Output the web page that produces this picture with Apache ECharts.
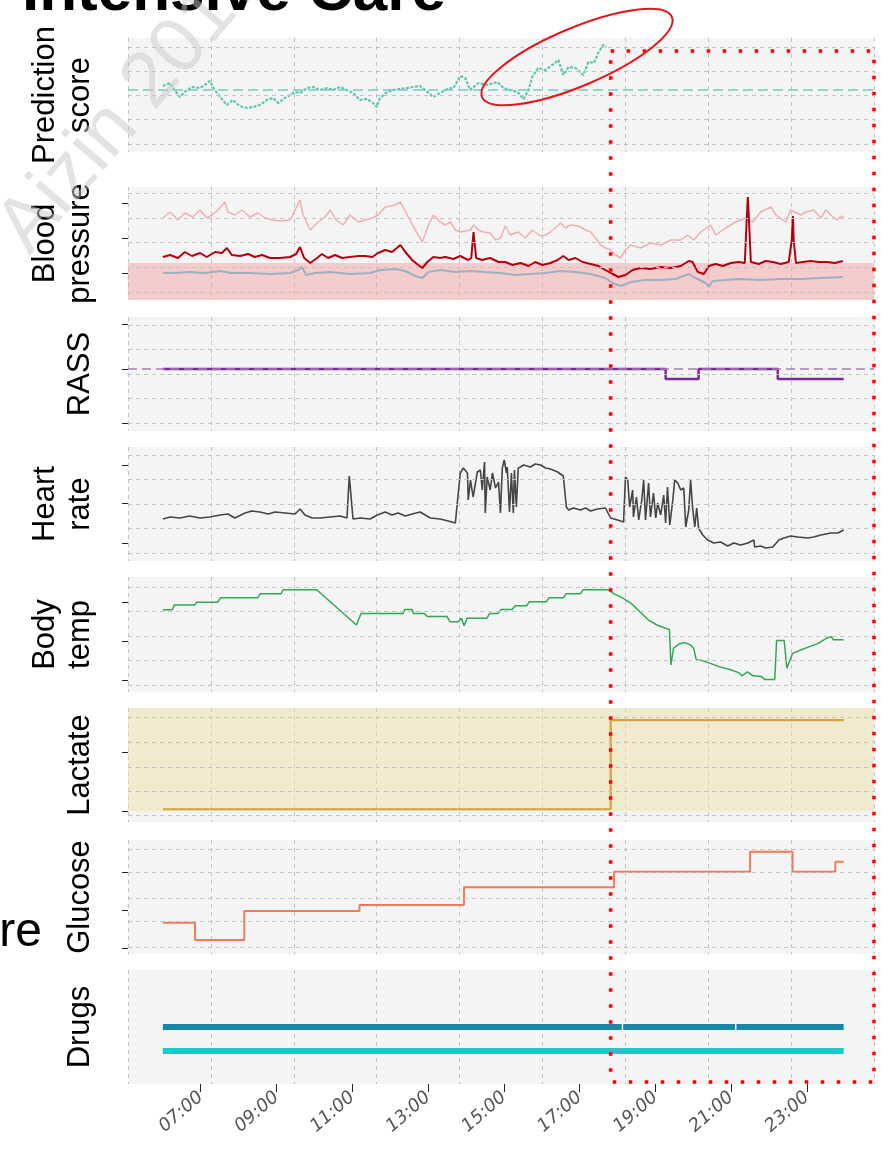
<!DOCTYPE html>
<html><head><meta charset="utf-8">
<script src="https://cdn.jsdelivr.net/npm/echarts@6/dist/echarts.min.js"></script>
<style>html,body{margin:0;padding:0;background:#fff}#c{width:886px;height:1150px}</style>
</head><body><div id="c"></div>
<script>
// ---------- data (time in decimal hours) ----------
const timeTicks = [7, 9, 11, 13, 15, 17, 19, 21, 23];
const panelNames = ['Prediction\nscore', 'Blood\npressure', 'RASS', 'Heart\nrate', 'Body\ntemp', 'Lactate', 'Glucose', 'Drugs'];

const predScore = [[6.00,0.578],[6.19,0.603],[6.26,0.562],[6.45,0.488],[6.63,0.545],[6.79,0.570],[6.98,0.562],[7.11,0.587],[7.24,0.620],[7.37,0.545],[7.51,0.488],[7.69,0.422],[7.85,0.463],[8.03,0.413],[8.22,0.397],[8.38,0.405],[8.56,0.422],[8.75,0.463],[8.91,0.479],[9.04,0.438],[9.22,0.479],[9.36,0.504],[9.49,0.529],[9.62,0.521],[9.81,0.562],[9.97,0.570],[10.15,0.545],[10.34,0.562],[10.49,0.545],[10.68,0.570],[10.86,0.545],[11.02,0.521],[11.20,0.463],[11.39,0.471],[11.52,0.446],[11.65,0.405],[11.73,0.479],[11.92,0.529],[12.08,0.545],[12.26,0.554],[12.45,0.562],[12.61,0.570],[12.79,0.578],[12.98,0.529],[13.14,0.488],[13.32,0.521],[13.51,0.554],[13.67,0.562],[13.85,0.661],[13.98,0.644],[14.11,0.545],[14.33,0.603],[14.56,0.587],[14.83,0.611],[14.99,0.562],[15.17,0.545],[15.36,0.529],[15.52,0.471],[15.65,0.545],[15.75,0.653],[15.91,0.727],[16.10,0.710],[16.28,0.752],[16.44,0.793],[16.57,0.669],[16.71,0.735],[16.89,0.727],[17.10,0.669],[17.23,0.776],[17.38,0.768],[17.49,0.851],[17.62,0.916],[17.70,0.900]];
const predThreshold = 0.545;

const bpSystolic = [[6.00,132.5],[6.19,141.5],[6.40,129.5],[6.58,140],[6.79,134],[6.98,144.5],[7.16,132.5],[7.30,137],[7.45,144.5],[7.64,156.5],[7.72,141.5],[7.90,137],[8.09,144.5],[8.30,134],[8.51,140],[8.70,132.5],[8.88,129.5],[9.09,128],[9.36,129.5],[9.49,144.5],[9.62,159.5],[9.70,137],[9.89,114.5],[10.10,126.5],[10.28,134],[10.42,144.5],[10.57,129.5],[10.76,122],[10.94,137],[11.16,126.5],[11.34,129.5],[11.53,132.5],[11.68,137],[11.87,149],[12.13,152],[12.27,156.5],[12.45,137],[12.66,114.5],[12.85,96.5],[13.01,122],[13.14,137],[13.32,126.5],[13.45,122],[13.59,126.5],[13.72,114.5],[13.85,111.5],[14.12,114.5],[14.20,122],[14.33,114.5],[14.46,111.5],[14.64,110],[14.78,99.5],[14.91,102.5],[15.04,120.5],[15.17,107],[15.38,111.5],[15.57,102.5],[15.75,114.5],[15.97,105.5],[16.10,107],[16.23,111.5],[16.50,125],[16.63,117.5],[16.76,122],[16.97,120.5],[17.16,114.5],[17.29,111.5],[17.42,102.5],[17.55,92],[17.68,87.5],[17.82,84.5],[17.95,77],[18.08,72.5],[18.21,84.5],[18.35,92],[18.61,87.5],[18.87,95],[19.14,92],[19.40,99.5],[19.67,99.5],[19.85,107],[20.01,99.5],[20.20,111.5],[20.46,122],[20.59,107],[20.86,117.5],[21.12,126.5],[21.39,132.5],[21.57,126.5],[21.78,141.5],[22.05,149],[22.18,137],[22.44,126.5],[22.57,144.5],[22.84,137],[22.97,141.5],[23.18,144.5],[23.37,132.5],[23.50,144.5],[23.63,137],[23.79,129.5],[23.90,135.5],[23.97,132.5]];
const bpMean = [[6.00,74],[6.19,77],[6.40,72.5],[6.58,81.5],[6.77,75.5],[6.98,80],[7.16,74],[7.38,81.5],[7.56,80],[7.69,87.5],[7.82,77],[8.04,75.5],[8.25,78.5],[8.43,74],[8.62,77],[8.83,72.5],[9.09,72.5],[9.36,74],[9.52,78.5],[9.62,89],[9.73,72.5],[9.89,65],[10.07,72.5],[10.20,78.5],[10.36,72.5],[10.55,77],[10.73,72.5],[10.94,74],[11.16,75.5],[11.34,75.5],[11.53,74],[11.68,80],[11.87,84.5],[12.05,81.5],[12.27,92],[12.40,81.5],[12.58,69.5],[12.74,62],[12.85,57.5],[12.98,66.5],[13.14,74],[13.32,72.5],[13.45,74],[13.67,71],[13.85,75.5],[14.06,69.5],[14.14,72.5],[14.20,111.5],[14.27,72.5],[14.43,69.5],[14.64,72.5],[14.86,66.5],[15.04,66.5],[15.23,62],[15.44,65],[15.65,60.5],[15.83,66.5],[16.02,62],[16.23,65],[16.42,69.5],[16.57,75.5],[16.71,69.5],[16.89,72.5],[17.08,66.5],[17.29,63.5],[17.50,60.5],[17.68,54.5],[17.87,48.5],[18.03,44],[18.21,47],[18.40,54.5],[18.61,57.5],[18.87,56],[19.14,59],[19.40,57.5],[19.67,60.5],[19.88,68],[19.98,66.5],[20.12,51.5],[20.28,48.5],[20.41,60.5],[20.59,63.5],[20.78,60.5],[20.99,65],[21.20,66.5],[21.36,65],[21.41,129.5],[21.44,164],[21.47,129.5],[21.52,66.5],[21.73,63.5],[21.91,68],[22.10,66.5],[22.31,63.5],[22.52,66.5],[22.60,99.5],[22.63,135.5],[22.65,99.5],[22.71,65],[22.89,66.5],[23.10,68],[23.31,66.5],[23.53,66.5],[23.74,65],[23.95,68]];
const bpDiastolic = [[6.00,50],[6.32,50],[6.71,51.5],[7.11,50],[7.51,53],[7.82,50],[8.30,50],[8.83,48.5],[9.36,50],[9.57,54.5],[9.67,59],[9.78,47],[10.02,50],[10.42,51.5],[10.94,48.5],[11.47,50],[11.74,54.5],[12.13,56],[12.40,53],[12.66,45.5],[12.85,42.5],[13.01,51.5],[13.32,54.5],[13.72,51.5],[14.12,53],[14.51,51.5],[14.91,50],[15.31,47],[15.70,48.5],[16.10,50],[16.49,53],[16.89,51.5],[17.29,48.5],[17.68,42.5],[17.87,35],[18.08,30.5],[18.35,36.5],[18.74,39.5],[19.14,39.5],[19.53,41],[19.88,48.5],[20.06,42.5],[20.33,35],[20.41,29],[20.51,38],[20.86,39.5],[21.25,41],[21.78,39.5],[22.31,41],[22.84,41],[23.37,42.5],[23.95,44]];
const bpHypoLimit = 65;

const rass = [[6.00,0],[19.27,-1],[20.14,0],[22.23,-1],[23.97,-1]];

const heartRate = [[6.00,78],[6.19,79.5],[6.45,78.75],[6.71,80.25],[6.98,78.75],[7.24,79.5],[7.51,81],[7.72,81.75],[7.90,78.75],[8.17,82.5],[8.35,84],[8.56,83.25],[8.78,81.75],[8.96,83.25],[9.23,82.5],[9.49,81.75],[9.62,85.5],[9.75,81],[9.94,78.75],[10.15,78.75],[10.41,79.5],[10.68,80.25],[10.86,78.75],[10.92,110.25],[10.97,110.25],[11.02,78],[11.21,78.75],[11.47,78],[11.66,81],[11.87,83.25],[12.05,81],[12.21,82.5],[12.40,80.25],[12.58,81.75],[12.79,83.25],[13.06,78.75],[13.32,78],[13.53,76.5],[13.72,75],[13.77,75],[13.85,112.5],[13.93,116.25],[14.04,112.5],[14.06,92.25],[14.12,107.25],[14.19,94.5],[14.30,113.25],[14.38,114.75],[14.43,99.75],[14.49,120.75],[14.51,82.5],[14.56,109.5],[14.64,99.75],[14.70,112.5],[14.78,101.25],[14.86,105.75],[14.91,82.5],[14.96,116.25],[15.01,122.25],[15.07,112.5],[15.09,117],[15.15,83.25],[15.20,112.5],[15.25,82.5],[15.28,114.75],[15.33,87],[15.38,116.25],[15.44,117],[15.52,118.5],[15.70,117],[15.83,119.25],[15.97,118.5],[16.10,116.25],[16.23,115.5],[16.42,113.25],[16.57,110.25],[16.65,87],[16.71,84.75],[16.84,86.25],[17.02,84.75],[17.16,86.25],[17.29,84],[17.47,85.5],[17.68,86.25],[17.82,78.75],[18.00,77.25],[18.16,75.75],[18.21,109.5],[18.27,107.25],[18.32,87],[18.40,99.75],[18.42,79.5],[18.50,94.5],[18.56,77.25],[18.64,92.25],[18.69,107.25],[18.74,77.25],[18.82,105],[18.87,79.5],[18.95,97.5],[19.01,78.75],[19.06,90],[19.14,81],[19.22,96],[19.27,75],[19.32,102],[19.38,73.5],[19.46,92.25],[19.51,107.25],[19.59,105],[19.67,99.75],[19.75,101.25],[19.80,72],[19.88,84.75],[19.93,107.25],[19.98,87],[20.04,72],[20.09,86.25],[20.14,71.25],[20.25,66],[20.38,62.25],[20.54,60],[20.72,60.75],[20.91,57.75],[21.07,60],[21.25,58.5],[21.44,60],[21.60,62.25],[21.62,57],[21.78,57.75],[21.91,56.25],[22.10,57],[22.26,62.25],[22.39,63.75],[22.57,65.25],[22.76,64.5],[23.02,63.75],[23.18,64.5],[23.37,66],[23.63,67.5],[23.82,67.5],[23.97,69.75]];

const bodyTemp = [[6.00,37.78],[6.25,37.78],[6.30,37.9],[6.85,37.9],[6.89,37.97],[7.45,37.97],[7.52,38.08],[8.50,38.08],[8.57,38.18],[9.12,38.18],[9.17,38.28],[10.06,38.28],[11.11,37.4],[11.23,37.69],[12.34,37.69],[12.38,37.79],[12.58,37.79],[12.61,37.69],[12.90,37.69],[12.98,37.61],[13.50,37.61],[13.58,37.48],[13.80,37.48],[13.88,37.57],[13.95,37.38],[14.03,37.57],[14.55,37.57],[14.63,37.69],[14.85,37.69],[14.93,37.79],[15.22,37.79],[15.30,37.88],[15.60,37.88],[15.67,37.98],[16.12,37.98],[16.19,38.08],[16.57,38.08],[16.64,38.18],[17.02,38.18],[17.09,38.28],[17.76,38.28],[17.91,38.18],[18.14,38.07],[18.36,37.94],[18.59,37.73],[18.81,37.53],[19.04,37.4],[19.26,37.32],[19.37,37.29],[19.41,36.4],[19.48,36.82],[19.63,36.93],[19.78,36.96],[19.93,36.9],[20.01,36.82],[20.08,36.53],[20.23,36.51],[20.45,36.44],[20.68,36.36],[20.98,36.28],[21.20,36.21],[21.28,36.13],[21.43,36.23],[21.58,36.13],[21.80,36.11],[21.88,36.04],[22.15,36.04],[22.20,37.01],[22.40,37.01],[22.47,36.32],[22.62,36.69],[22.85,36.78],[23.07,36.86],[23.30,36.94],[23.52,37.07],[23.64,37.11],[23.70,37.03],[23.97,37.03]];

const lactate = [[6.00,1.03],[17.82,2.54],[23.97,2.54]];
const lactateBandFrom = 1.0;

const glucose = [[6.00,116.6],[6.85,105.2],[8.15,124.3],[11.19,128.3],[13.95,140.0],[17.91,150.3],[21.50,163.5],[22.62,150.3],[23.75,156.9],[23.97,156.9]];

const drugLevels = [0.5, 0.29];
const drug1Segments = [[6.00,18.11],[18.15,21.10],[21.14,23.97]];
const drug2Segments = [[6.00,23.97]];

// axis ranges per panel
const yMin = [0.034, 9.5, -6.2, 46.5, 35.725, 0.814, 95.96, 0];
const yMax = [0.974, 179, 5.2, 132, 38.6, 2.746, 171.2, 1];
const yTicks = [[], [155, 102.5, 50], [4.5, 0, -5.4], [118.5, 90, 60], [37.975, 37, 36.025], [2, 1], [150.08, 125, 99.92], []];
const hGrid = [[0.9,0.7,0.5,0.3,0.1],[170,132.5,95.75,59,21.5],[4.4,1.95,-0.5,-2.95,-5.4],[126,107.625,89.25,70.875,52.5],[38.35,37.75,37.125,36.525,35.9],[2.593,2.169,1.746,1.339,0.915],[165.26,150.08,132.92,117.74,100.58],[]];
const tMin = 5.08, tMax = 24.77;
const alertTime = 17.82;

// ---------- layout ----------
const L = 128, W = 746;
const panels = [{top:38,h:114},{top:187,h:113},{top:317,h:114},{top:447,h:114},{top:577,h:115},{top:708,h:114},{top:840,h:114},{top:970,h:114}];
const FONT = '"Liberation Sans", Arial, sans-serif';

const chart = echarts.init(document.getElementById('c'));
const option = {animation:false, backgroundColor:'#fff', grid:[], xAxis:[], yAxis:[], series:[]};

panels.forEach((p, i) => {
  option.grid.push({left:L, width:W, top:p.top, height:p.h, show:true, backgroundColor:'#f4f4f4', borderWidth:0});
  option.xAxis.push({type:'value', gridIndex:i, min:tMin, max:tMax, axisLine:{show:false}, splitLine:{show:false},
    axisTick:{show:i===7, customValues:timeTicks, length:8, lineStyle:{color:'#222', width:1}},
    axisLabel:{show:i===7, customValues:timeTicks, rotate:41, margin:11, fontSize:18, color:'#555', fontFamily:'DejaVu Sans', fontStyle:'italic',
      formatter:v => (v < 10 ? '0' : '') + v + ':00'}});
  option.xAxis.push({type:'value', gridIndex:i, min:0, max:9, interval:1, position:'bottom', axisLine:{show:false}, axisTick:{show:false}, axisLabel:{show:false},
    splitLine:{show:true, lineStyle:{color:'#c4c4c4', type:[4,4], width:1}}});
  option.yAxis.push({type:'value', gridIndex:i, min:yMin[i], max:yMax[i], axisLine:{show:false}, splitLine:{show:false},
    axisTick:{show:yTicks[i].length>0, customValues:yTicks[i], length:6, lineStyle:{color:'#222', width:1}},
    axisLabel:{show:false},
    name:panelNames[i], nameLocation:'middle', nameRotate:90, nameGap:30,
    nameTextStyle:{fontSize:31, fontFamily:FONT, color:'#000', lineHeight:35}});
  const mlData = hGrid[i].map(v => ({yAxis:v}));
  if (i === 0) mlData.push({yAxis:predThreshold, lineStyle:{color:'#72cdbd', type:[10,5], width:1.5}});
  if (i === 2) mlData.push({yAxis:0, lineStyle:{color:'#a77ab8', type:[9,5], width:1.5}});
  const bg = {type:'line', xAxisIndex:2*i, yAxisIndex:i, data:[], z:1, silent:true,
    markLine:{silent:true, symbol:['none','none'], label:{show:false}, animation:false,
      lineStyle:{color:'#c4c4c4', type:[4,4], width:1}, data:mlData}};
  if (i === 1) bg.markArea = {silent:true, itemStyle:{color:'rgba(244,156,156,0.46)'}, data:[[{yAxis:yMin[1]},{yAxis:bpHypoLimit}]]};
  if (i === 5) bg.markArea = {silent:true, itemStyle:{color:'rgba(240,222,160,0.45)'}, data:[[{yAxis:lactateBandFrom},{yAxis:yMax[5]}]]};
  option.series.push(bg);
});

function line(i, data, color, width, extra) {
  return Object.assign({type:'line', xAxisIndex:2*i, yAxisIndex:i, data:data, symbol:'none', z:3,
    lineStyle:{color:color, width:width}}, extra || {});
}
option.series.push(line(0, predScore, '#5ec6b0', 2.2, {lineStyle:{color:'#5ec6b0', width:2.2, type:[3,1.5]}}));
option.series.push(line(1, bpSystolic, '#f0b0b0', 1.5));
option.series.push(line(1, bpDiastolic, '#9eb0c4', 2));
option.series.push(line(1, bpMean, '#b5000e', 2));
option.series.push(line(2, rass, '#7a2a9a', 2.5, {step:'end'}));
option.series.push(line(3, heartRate, '#454545', 1.6));
option.series.push(line(4, bodyTemp, '#33a852', 1.5));
option.series.push(line(5, lactate, '#d4a53a', 2.2, {step:'end'}));
option.series.push(line(6, glucose, '#f07a5a', 2, {step:'end'}));
drug1Segments.forEach(s => option.series.push(line(7, [[s[0],drugLevels[0]],[s[1],drugLevels[0]]], '#1a86a6', 6, {lineStyle:{color:'#1a86a6', width:6, cap:'butt'}})));
drug2Segments.forEach(s => option.series.push(line(7, [[s[0],drugLevels[1]],[s[1],drugLevels[1]]], '#1ec7cc', 6, {lineStyle:{color:'#1ec7cc', width:6, cap:'butt'}})));

chart.setOption(option);

// annotations
const xAlert = chart.convertToPixel({xAxisIndex:0}, alertTime);
const xRight = chart.convertToPixel({xAxisIndex:1}, 9);
chart.setOption({graphic:[
  {type:'text', x:22, y:24, z:100, style:{text:'Intensive Care', font:'bold 62px ' + FONT, fill:'#000', verticalAlign:'bottom'}},
  {type:'text', x:42, y:957, z:100, style:{text:'re', font:'48px ' + FONT, fill:'#000', align:'right', verticalAlign:'bottom'}},
  {type:'text', x:132, y:104, rotation:0.86, z:100, style:{text:'Aizin 2017', font:'78px ' + FONT, fill:'rgba(200,200,200,0.5)', align:'center', verticalAlign:'middle'}},
  {type:'rect', z:100, shape:{x:xAlert, y:51, width:xRight - xAlert, height:1082 - 51},
    style:{fill:'none', stroke:'#ff0000', lineWidth:3.5, lineDash:[3.5,12.5]}},
  {type:'ellipse', z:100, x:577, y:57, rotation:0.4, shape:{cx:0, cy:0, rx:103, ry:29},
    style:{fill:'none', stroke:'#e8141c', lineWidth:2}}
]});
</script></body></html>
